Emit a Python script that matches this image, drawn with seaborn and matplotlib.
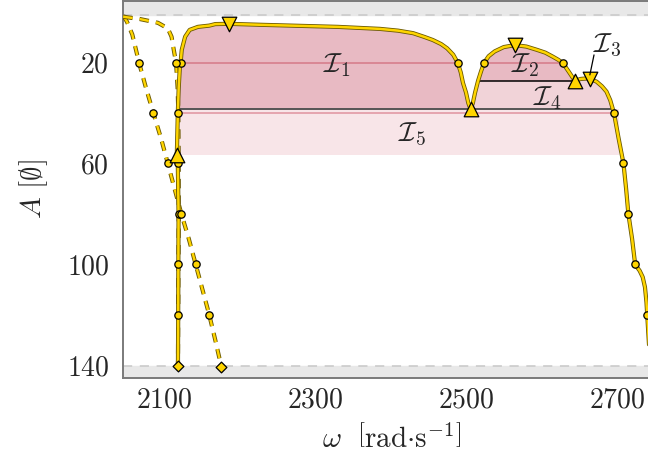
import numpy as np
import seaborn as sns
import matplotlib.pyplot as plt
import matplotlib.patheffects as pe

# main (solid) branch
sol_x = [2118.5, 2118.8, 2119, 2119.3, 2118.3, 2117, 2118.3, 2119.5, 2121, 2122, 2123.5,
         2128, 2134, 2145, 2160, 2168, 2186, 2230, 2280, 2330, 2386, 2410, 2430, 2445,
         2456, 2467, 2475, 2483, 2489, 2493, 2496, 2500, 2503, 2506, 2509, 2512, 2516,
         2520, 2524, 2530, 2538, 2550, 2565, 2580, 2594, 2605, 2615, 2622, 2628, 2636,
         2644, 2652, 2660, 2664, 2673, 2680, 2686, 2691, 2696, 2702, 2708.5, 2712, 2715,
         2720, 2724, 2730, 2734, 2737, 2739, 2740, 2742, 2744]
sol_y = [140, 120, 100, 80, 60, 56.7, 40.1, 30, 22, 20.2, 15.1,
         9.9, 7.2, 6.0, 5.5, 4.9, 4.8, 5.2, 5.6, 6.0, 6.8, 7.5, 8.5, 10,
         11.2, 12.8, 14.5, 17, 20.2, 24, 28.2, 32, 36.1, 38.6, 36.2, 32, 27.3,
         23.5, 20.2, 17.6, 15.7, 14, 13.2, 13.8, 15.1, 16.2, 17.8, 19, 20.2, 23.7,
         27.3, 26.6, 26.4, 26.5, 27.7, 29.5, 31.6, 35, 40.2, 50, 60, 70, 80,
         90, 100, 102.5, 105, 109, 115, 120, 130, 140]

# dashed branches
da_x = [2046, 2051, 2058, 2067, 2076, 2086, 2096, 2105, 2114, 2123, 2133, 2142, 2151, 2160, 2168, 2176]
da_y = [1.5, 4, 9, 20.2, 30, 40.2, 50, 60, 70, 80, 90, 100, 110, 120, 130, 140.5]
db_x = [2046, 2068, 2092, 2105, 2110, 2113, 2116, 2118, 2119, 2119.5, 2119.5, 2119, 2118.5]
db_y = [2.0, 2.9, 4.4, 6.6, 9.9, 15.2, 20.2, 30, 40, 60, 80, 110, 140]

# markers
circ_x = [2118.8, 2119, 2119.3, 2118.3, 2118.3, 2122, 2489, 2524, 2628, 2696, 2708.5, 2715, 2724, 2740,
          2067, 2086, 2105, 2123, 2142, 2160, 2116]
circ_y = [120, 100, 80, 60, 40.1, 20.2, 20.2, 20.2, 20.2, 40.2, 60, 80, 100, 120,
          20.2, 40.2, 60, 80, 100, 120, 20.2]
tup_x = [2117, 2506, 2644]
tup_y = [56.7, 38.6, 27.3]
tdn_x = [2186, 2565, 2664]
tdn_y = [4.8, 13.2, 26.5]
dia_x = [2118.5, 2176]
dia_y = [140, 140.5]

lvl_base = 38.6   # I1 / I2 base
lvl_i4 = 27.3
lvl_i5 = 56.7

sns.set_theme(style="white")
plt.rcParams["font.family"] = "serif"
plt.rcParams["font.serif"] = ["cmr10"]
plt.rcParams["mathtext.fontset"] = "cm"
plt.rcParams["axes.formatter.use_mathtext"] = True

fig = plt.figure(figsize=(6.48, 4.65), dpi=100)
ax = fig.add_axes([0.1898, 0.1877, 0.830, 0.8108])

x = np.array(sol_x)
y = np.array(sol_y)

dark = "#e8bac3"
mid = "#f1d3d8"
light = "#f8e5e8"

m5 = (y <= lvl_i5) & (x <= 2702)
ax.fill_between(x[m5], lvl_base, lvl_i5, color=light, lw=0, zorder=1)
m1 = x <= 2506
ax.fill_between(x[m1], np.minimum(y[m1], lvl_base), lvl_base, color=dark, lw=0, zorder=1)
m4 = (x >= 2506) & (x <= 2696)
ax.fill_between(x[m4], np.clip(y[m4], lvl_i4, lvl_base), lvl_base, color=mid, lw=0, zorder=1)
ax.fill_between(x[m4], np.minimum(y[m4], lvl_i4), lvl_i4, color=dark, lw=0, zorder=1)

# level lines
ax.hlines(20.2, 2122, 2489, color="#d98794", lw=1.4, zorder=2)
ax.hlines(20.2, 2524, 2628, color="#d98794", lw=1.4, zorder=2)
ax.hlines(40.2, 2118.3, 2696, color="#e0929e", lw=1.1, zorder=2)
ax.hlines(lvl_base, 2118.3, 2695, color="#555555", lw=1.4, zorder=2)
ax.hlines(lvl_i4, 2516, 2644, color="black", lw=1.1, zorder=2)

# grey bands
ax.axhspan(-10, 1.3, color="#e8e8e8", zorder=0.5)
ax.axhspan(140, 150, color="#e8e8e8", zorder=0.5)
ax.axhline(1.3, color="#c8c8c8", ls=(0, (6, 5)), lw=1.1, zorder=0.6)
ax.axhline(140, color="#c8c8c8", ls=(0, (6, 5)), lw=1.1, zorder=0.6)

gold = "#ffd500"
outline = [pe.Stroke(linewidth=3.0, foreground="#6a5800"), pe.Normal()]
sns.lineplot(x=da_x, y=da_y, sort=False, estimator=None, color=gold, lw=1.7,
             linestyle=(0, (4, 3)), path_effects=outline, ax=ax, zorder=3)
sns.lineplot(x=db_x, y=db_y, sort=False, estimator=None, color=gold, lw=1.7,
             linestyle=(0, (4, 3)), path_effects=outline, ax=ax, zorder=3)
sns.lineplot(x=sol_x, y=sol_y, sort=False, estimator=None, color=gold, lw=1.8,
             path_effects=outline, ax=ax, zorder=4)

sns.scatterplot(x=circ_x, y=circ_y, marker="o", s=28, color=gold, edgecolor="black",
                linewidth=0.9, ax=ax, zorder=5)
sns.scatterplot(x=dia_x, y=dia_y, marker="D", s=30, color=gold, edgecolor="black",
                linewidth=0.9, ax=ax, zorder=5)
sns.scatterplot(x=tup_x, y=tup_y, marker="^", s=110, color=gold, edgecolor="black",
                linewidth=0.9, ax=ax, zorder=6)
sns.scatterplot(x=tdn_x, y=tdn_y, marker="v", s=110, color=gold, edgecolor="black",
                linewidth=0.9, ax=ax, zorder=6)

fs_lab = 20
ax.text(2329, 21, r"$\mathcal{I}_1$", fontsize=fs_lab, ha="center", va="center", zorder=7)
ax.text(2578, 21, r"$\mathcal{I}_2$", fontsize=fs_lab, ha="center", va="center", zorder=7)
ax.text(2607, 34, r"$\mathcal{I}_4$", fontsize=fs_lab, ha="center", va="center", zorder=7)
ax.text(2428, 48.5, r"$\mathcal{I}_5$", fontsize=fs_lab, ha="center", va="center", zorder=7)
ax.text(2687, 13.3, r"$\mathcal{I}_3$", fontsize=fs_lab, ha="center", va="center", zorder=7)
ax.annotate("", xy=(2664, 25), xytext=(2669.5, 17.1), zorder=7,
            arrowprops=dict(arrowstyle="-", color="black", lw=0.9, shrinkA=0, shrinkB=0))

ax.set_xlim(2045.7, 2758)
ax.set_ylim(144.8, -4.35)
ax.set_xticks([2100, 2300, 2500, 2700])
ax.set_yticks([20, 60, 100, 140])
ax.tick_params(direction="in", length=8, width=1.0, color="#8c8c8c", labelsize=20,
               pad=7)
ax.tick_params(axis="y", pad=10)
for s in ax.spines.values():
    s.set_color("#7a7a7a")
    s.set_linewidth(1.4)

ax.set_xlabel(r"$\omega\ \ \left[\mathrm{rad{\cdot}s}^{-1}\right]$", fontsize=21, labelpad=8)
ax.set_ylabel(r"$A\ [\emptyset]$", fontsize=21, labelpad=12)

fig.savefig("out.png", dpi=100)
